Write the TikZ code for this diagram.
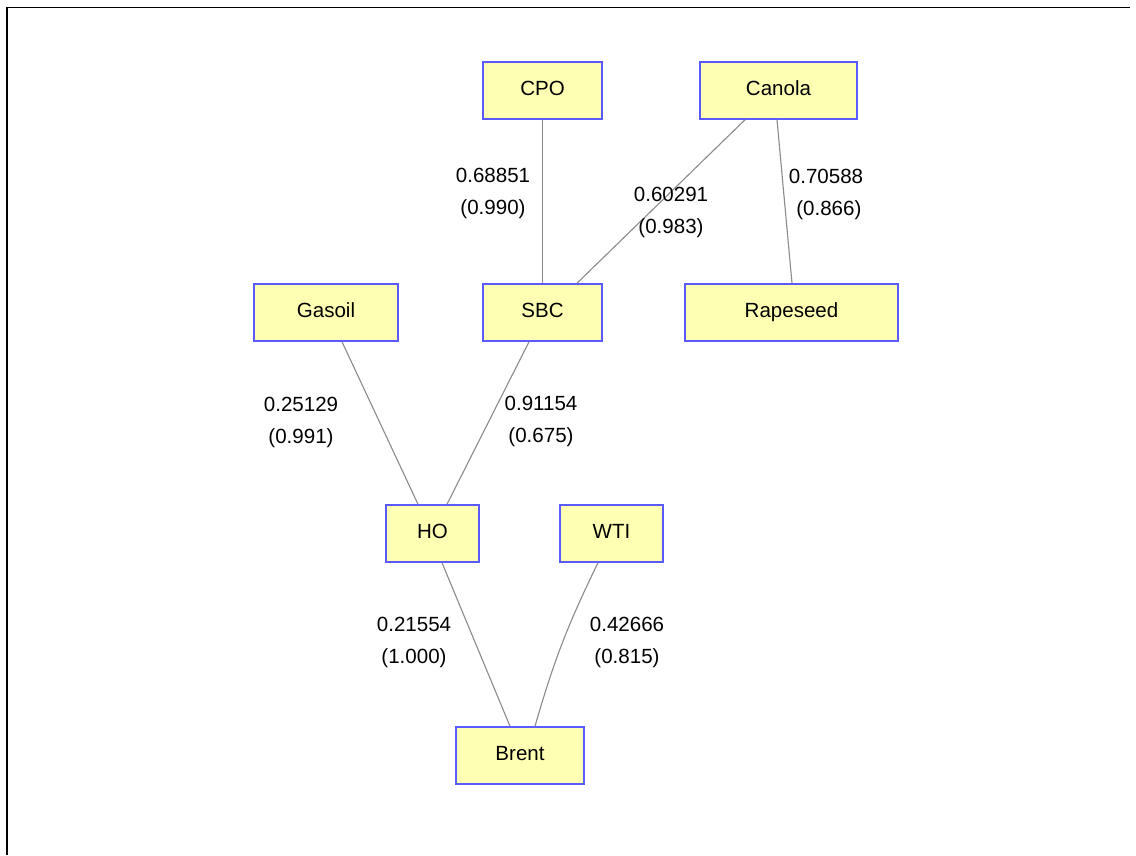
\documentclass[tikz,border=0pt]{standalone}
\usepackage{fontspec}
\setmainfont{Liberation Sans}
\usetikzlibrary{arrows.meta}
\definecolor{boxfill}{HTML}{FFFFB4}
\definecolor{boxline}{HTML}{5A5AFF}
\definecolor{edgegray}{HTML}{8C8C8C}

\begin{document}
\begin{tikzpicture}[
  x=0.025cm, y=-0.025cm,
  commodity/.style={rectangle, draw=boxline, fill=boxfill, line width=0.04cm, minimum height=1.425cm, inner sep=0pt, text height=0.72em, text depth=0em, font=\fontsize{14.6}{17}\selectfont},
  weight/.style={align=center, inner sep=0pt, font=\fontsize{14.6}{22.8}\selectfont},
  link/.style={draw=edgegray, line width=0.028cm}
]

\useasboundingbox (0,0) rectangle (1136,855);
\draw[line width=0.04cm] (7,855) -- (7,7.5) -- (1130,7.5);

\node[commodity, minimum width=2.975cm] (cpo)      at (542.5, 90.5)  {CPO};
\node[commodity, minimum width=3.925cm] (canola)   at (778.5, 90.5)  {Canola};
\node[commodity, minimum width=3.6cm]   (gasoil)   at (326, 312.5)   {Gasoil};
\node[commodity, minimum width=2.975cm] (sbc)      at (542.5, 312.5) {SBC};
\node[commodity, minimum width=5.325cm] (rapeseed) at (791.5, 312.5) {Rapeseed};
\node[commodity, minimum width=2.325cm] (ho)       at (432.5, 533.5) {HO};
\node[commodity, minimum width=2.575cm] (wti)      at (611.5, 533.5) {WTI};
\node[commodity, minimum width=3.2cm]   (brent)    at (520, 755.5)   {Brent};

\draw[link] (cpo.south) -- (sbc.north);
\draw[link] ([xshift=-0.8375cm]canola.south) -- ([xshift=0.8625cm]sbc.north);
\draw[link] ([xshift=-0.0375cm]canola.south) -- ([xshift=0.0125cm]rapeseed.north);
\draw[link] ([xshift=0.4cm]gasoil.south) -- ([xshift=-0.3625cm]ho.north);
\draw[link] ([xshift=-0.3375cm]sbc.south) -- ([xshift=0.3625cm]ho.north);
\draw[link] ([xshift=0.2375cm]ho.south) -- ([xshift=-0.25cm]brent.north);
\draw[link] ([xshift=-0.3375cm]wti.south) to[bend right=5] ([xshift=0.375cm]brent.north);

\node[weight] (w1) at (493, 193) {0.68851\\(0.990)};
\node[weight] (w2) at (671, 212) {0.60291\\(0.983)};
\node[weight] (w3) at (826, 194) {0.70588\\\ (0.866)};
\node[weight] (w4) at (301, 422) {0.25129\\(0.991)};
\node[weight] (w5) at (541, 421) {0.91154\\(0.675)};
\node[weight] (w6) at (414, 642) {0.21554\\(1.000)};
\node[weight] (w7) at (627, 642) {0.42666\\(0.815)};

\end{tikzpicture}
\end{document}
